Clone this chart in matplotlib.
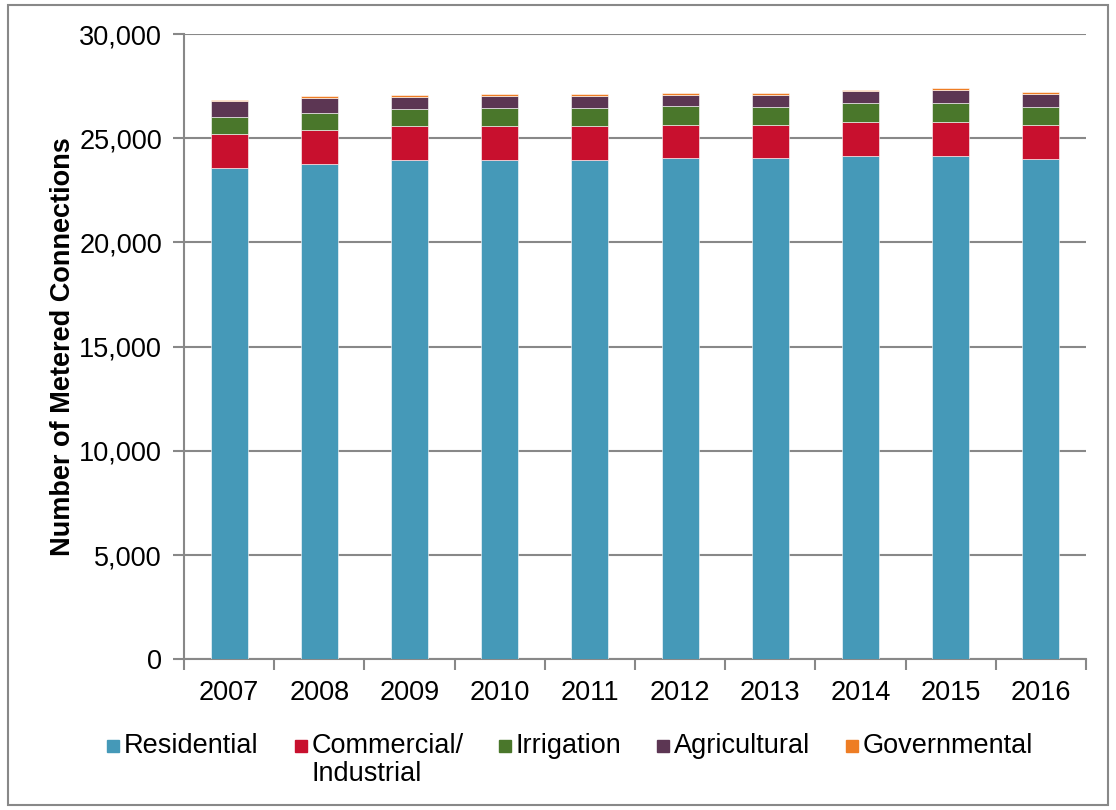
import numpy as np
import matplotlib.pyplot as plt
from matplotlib.patches import Rectangle
from matplotlib.ticker import FuncFormatter

# Metered connections by customer class, 2007-2016
years = ["2007", "2008", "2009", "2010", "2011", "2012", "2013", "2014", "2015", "2016"]
residential = [23590, 23780, 23980, 23960, 23980, 24070, 24040, 24170, 24170, 24020]
commercial = [1620, 1620, 1610, 1630, 1610, 1570, 1580, 1610, 1610, 1600]
irrigation = [815, 815, 815, 865, 865, 910, 895, 910, 910, 895]
agricultural = [750, 720, 560, 560, 560, 510, 545, 560, 610, 590]
governmental = [80, 110, 95, 110, 110, 125, 125, 80, 95, 95]

labels = ["Residential", "Commercial/\nIndustrial", "Irrigation", "Agricultural", "Governmental"]
colors = ["#4599B8", "#C8102E", "#4A772B", "#5C3653", "#EE7D24"]

plt.rcParams["font.family"] = ["Liberation Sans", "DejaVu Sans"]
FS = 19.5

W, H = 1116, 810
fig = plt.figure(figsize=(W / 100, H / 100), dpi=100)
ax = fig.add_axes([0.165, 0.186, 0.808, 0.772])

x = np.arange(len(years))
bottom = np.zeros(len(years))
for vals, lab, col in zip([residential, commercial, irrigation, agricultural, governmental], labels, colors):
    ax.bar(x, vals, width=0.41, bottom=bottom, color=col,
           edgecolor="white", linewidth=0.4, zorder=3)
    bottom += np.array(vals)

ax.set_ylim(0, 30000)
ax.set_xlim(-0.5, len(years) - 0.5)
ax.set_yticks(range(0, 30001, 5000))
ax.yaxis.set_major_formatter(FuncFormatter(lambda v, p: f"{int(v):,}"))
ax.set_xticks(x)
ax.set_xticklabels(years)
ax.set_xticks(np.arange(-0.5, len(years), 1), minor=True)
ax.tick_params(axis="x", which="major", length=0, pad=15, labelsize=FS)
ax.tick_params(axis="x", which="minor", length=8, color="#888888", width=1.5)
ax.tick_params(axis="y", length=8, color="#888888", width=1.5, pad=8, labelsize=FS)

ax.grid(axis="y", color="#888888", linewidth=1.5, zorder=0)
for s in ["top", "right"]:
    ax.spines[s].set_visible(False)
for s in ["left", "bottom"]:
    ax.spines[s].set_color("#888888")
    ax.spines[s].set_linewidth(1.5)

ax.set_ylabel("Number of Metered Connections", fontsize=FS, fontweight="bold", labelpad=2)

# legend drawn by hand so the two-line label lines up on its first line
leg_x = [107, 295, 499, 657, 846]
for lx, lab, col in zip(leg_x, labels, colors):
    fig.patches.append(Rectangle((lx / W, 1 - 752 / H), 12 / W, 12 / H,
                                 transform=fig.transFigure, color=col))
    fig.text((lx + 17) / W, 1 - 733 / H, lab, fontsize=FS, va="top", ha="left",
             linespacing=1.12)

fig.patches.append(Rectangle((0.007, 0.006), 0.986, 0.988, transform=fig.transFigure,
                             fill=False, edgecolor="#888888", linewidth=1.5))

plt.savefig("out.png", dpi=100)
